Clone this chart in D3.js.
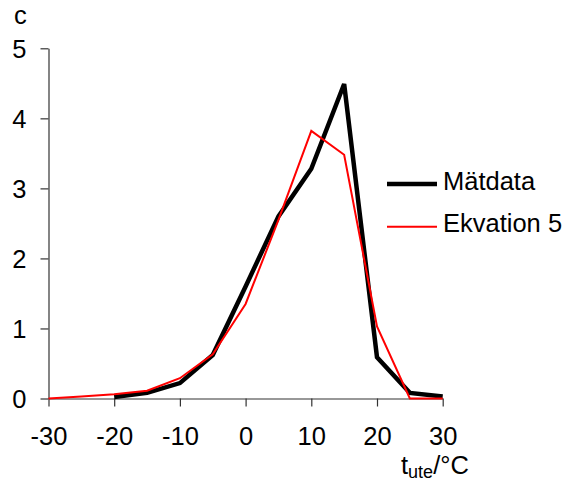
<!DOCTYPE html>
<html><head><meta charset="utf-8">
<script src="https://cdn.jsdelivr.net/npm/d3@7"></script>
<style>html,body{margin:0;padding:0;background:#fff;}svg{display:block;font-family:"Liberation Sans",Arial,sans-serif;}</style>
</head><body>
<script>
const xTicks = [-30,-20,-10,0,10,20,30];
const yTicks = [0,1,2,3,4,5];
const matX = [-20,-15,-10,-5,0,5,10,15,20,25,30];
const matY = [0.02,0.08,0.22,0.62,1.6,2.6,3.28,4.49,0.59,0.08,0.03];
const ekvX = [-30,-25,-20,-15,-10,-5,0,5,10,15,20,25,30];
const ekvY = [0,0.03,0.06,0.11,0.29,0.63,1.35,2.55,3.82,3.48,1.03,0,0];
const seriesNames = ["Mätdata","Ekvation 5"];

const W=568,H=482,FS=25.5;
const svg=d3.select("body").append("svg").attr("width",W).attr("height",H);
const x=d3.scaleLinear().domain([-30,30]).range([48.5,442.7]);
const y=d3.scaleLinear().domain([0,5]).range([398.5,48.3]);
const fmt=d=>String(d);

const xa=svg.append("g").attr("transform","translate(0,398.5)")
  .call(d3.axisBottom(x).tickValues(xTicks).tickFormat(fmt).tickSize(8).tickSizeOuter(0).tickPadding(12));
const ya=svg.append("g").attr("transform","translate(48.5,0)")
  .call(d3.axisLeft(y).tickValues(yTicks).tickFormat(fmt).tickSize(8).tickSizeOuter(0).tickPadding(14));
[xa,ya].forEach(a=>{
  a.selectAll("path,line").attr("stroke","#333").attr("stroke-width",1.2);
  a.selectAll("text").attr("font-size",FS).attr("fill","#000").attr("font-family","Liberation Sans, Arial, sans-serif");
});
xa.selectAll("text").attr("dy",null).attr("y",46.5);
ya.selectAll("text").attr("dy","0.36em");

const line=d3.line().x(d=>x(d[0])).y(d=>y(d[1]));
svg.append("path").datum(matX.map((v,i)=>[v,matY[i]])).attr("d",line)
  .attr("fill","none").attr("stroke","#000").attr("stroke-width",4.5).attr("stroke-linejoin","miter");
svg.append("path").datum(ekvX.map((v,i)=>[v,ekvY[i]])).attr("d",line)
  .attr("fill","none").attr("stroke","#ff0000").attr("stroke-width",2);

// legend
const leg=[{name:seriesNames[0],c:"#000",w:4.5,y:184},{name:seriesNames[1],c:"#ff0000",w:2,y:226.7}];
leg.forEach(l=>{
  svg.append("line").attr("x1",387).attr("x2",437).attr("y1",l.y).attr("y2",l.y).attr("stroke",l.c).attr("stroke-width",l.w);
  svg.append("text").attr("x",443).attr("y",l.y+5.5).attr("font-size",FS).text(l.name);
});

svg.append("text").attr("x",14).attr("y",24).attr("font-size",FS).text("c");
const t=svg.append("text").attr("x",401).attr("y",474).attr("font-size",FS);
t.append("tspan").text("t");
t.append("tspan").attr("font-size",18).attr("dy",4).text("ute");
t.append("tspan").attr("dy",-4).text("/°C");
</script>
</body></html>
